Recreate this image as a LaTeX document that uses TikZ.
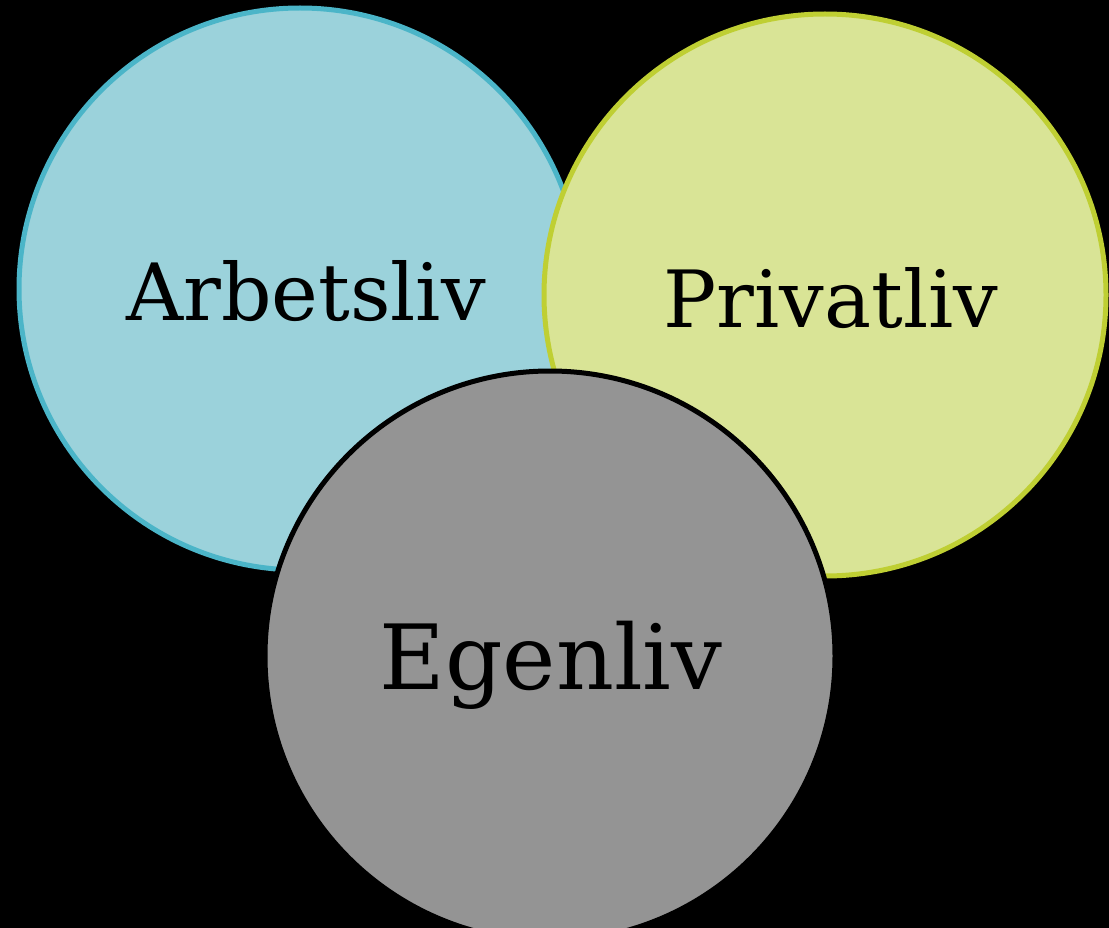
\documentclass[tikz,border=0pt]{standalone}
\usepackage{fontspec}
\setmainfont{DejaVu Serif}
\definecolor{bluefill}{HTML}{9BD2DB}
\definecolor{blueline}{HTML}{4BB5C8}
\definecolor{greenfill}{HTML}{D9E496}
\definecolor{greenline}{HTML}{BFCF33}
\definecolor{grayfill}{HTML}{949494}
\begin{document}
\begin{tikzpicture}[x=1pt,y=-1pt,
  ring/.style={circle,inner sep=0pt,outer sep=0pt,line width=5pt},
  label/.style={anchor=base,inner sep=0pt,font=\fontsize{79}{81}\selectfont,text=black}]
\fill[black] (0,0) rectangle (1109,928);
\useasboundingbox (0,0) rectangle (1109,928);
\node[ring,fill=bluefill,draw=blueline,minimum size=562pt] (arb) at (300,289) {};
\node[ring,fill=greenfill,draw=greenline,minimum size=562pt] (priv) at (825,295) {};
\node[ring,fill=grayfill,draw=black,minimum size=570pt] (egen) at (550,656) {};
\node[label] (arbt) at (306,320) {Arbetsliv};
\node[label] (privt) at (831,327) {Privatliv};
\node[label,font=\fontsize{90}{92}\selectfont] (egent) at (551,689) {Egenliv};
\end{tikzpicture}
\end{document}
